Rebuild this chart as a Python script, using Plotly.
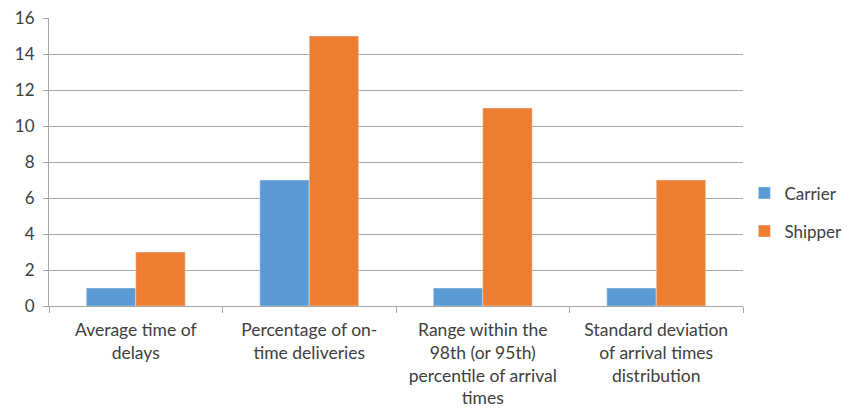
import plotly.graph_objects as go

categories = [
    "Average time of<br>delays",
    "Percentage of on-<br>time deliveries",
    "Range within the<br>98th (or 95th)<br>percentile of arrival<br>times",
    "Standard deviation<br>of arrival times<br>distribution",
]
carrier = [1, 7, 1, 1]
shipper = [3, 15, 11, 7]
y_ticks = [0, 2, 4, 6, 8, 10, 12, 14, 16]

font_family = "Lato, 'Open Sans', sans-serif"
text_color = "#404040"
grid_color = "#A6A6A6"

fig = go.Figure()
fig.add_trace(go.Bar(name="Carrier", x=categories, y=carrier, marker_color="#5B9BD5",
                     legendgroup="a"))
fig.add_trace(go.Bar(name="Shipper", x=categories, y=shipper, marker_color="#ED7D31",
                     legendgroup="b"))

fig.update_layout(
    width=848, height=407,
    margin=dict(l=41, r=113, t=10, b=109, autoexpand=False),
    plot_bgcolor="white", paper_bgcolor="white",
    barmode="group", bargap=0.43, bargroupgap=0,
    font=dict(family=font_family, size=17, color=text_color),
    legend=dict(x=1.002, y=0.325, yanchor="middle", xanchor="left",
                traceorder="grouped", tracegroupgap=13,
                font=dict(size=17, color=text_color), itemwidth=30),
    showlegend=True,
)
fig.update_yaxes(range=[0, 16], tickvals=y_ticks, showgrid=True, gridcolor=grid_color,
                 gridwidth=1, showline=True, linecolor=grid_color, ticks="outside",
                 ticklen=5, tickcolor=grid_color, tickfont=dict(size=17),
                 ticklabelstandoff=5, ticklabeloverflow="allow",
                 zeroline=False, automargin=False)
fig.update_xaxes(showline=True, linecolor=grid_color, ticks="outside", tickson="boundaries",
                 ticklen=6, tickcolor=grid_color, showgrid=False, tickangle=0,
                 tickfont=dict(size=17.5), ticklabelstandoff=8,
                 ticklabeloverflow="allow", automargin=False)

fig.write_html("out.html")
